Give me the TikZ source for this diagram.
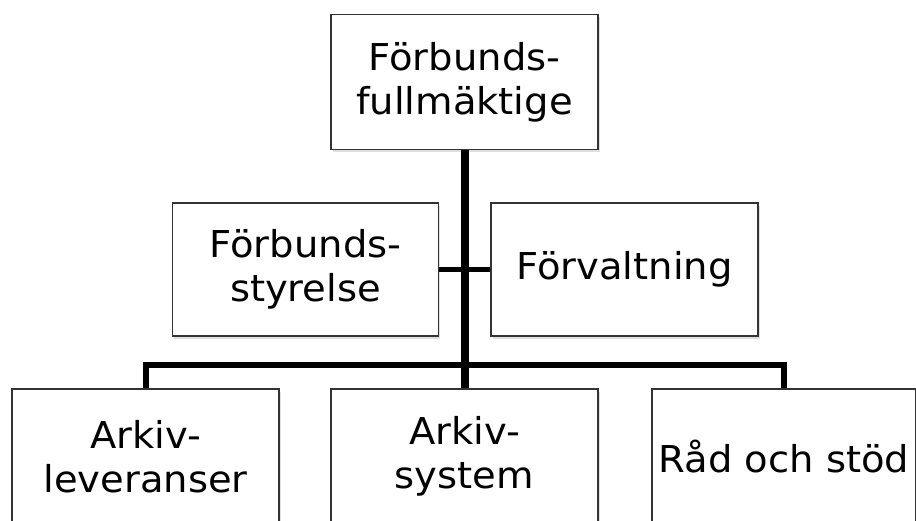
\documentclass[tikz,border=0pt]{standalone}
\usepackage{fontspec}
\setmainfont[FakeStretch=1.04]{DejaVu Sans}
\usetikzlibrary{shadows}
\tikzset{
  orgbox/.style={draw=black!80, line width=1.8pt, fill=white,
    minimum width=267pt, minimum height=135pt, inner sep=0pt,
    align=center, font=\fontsize{37}{44}\selectfont,
    drop shadow={opacity=0.25, shadow xshift=1.5pt, shadow yshift=-2.5pt}},
  trunk/.style={line width=8pt, line cap=butt},
  branch/.style={line width=6pt, line join=miter},
  side/.style={line width=5pt}
}
\begin{document}
\begin{tikzpicture}[x=1pt, y=-1pt]
  \useasboundingbox (0,0) rectangle (916,520);
  \clip (0,0) rectangle (916,520);
  \fill[white] (0,0) rectangle (916,520);

  % level where the lower branch runs across
  \coordinate (bar) at (464.5,365);

  % boxes
  \node[orgbox] (fm) at (464.5,82) {Förbunds-\\fullmäktige};
  \node[orgbox, minimum width=266pt, minimum height=133pt] (fs) at (305.5,269.5) {Förbunds-\\styrelse};
  \node[orgbox, minimum height=133pt] (fv) at (624.5,269.5) {Förvaltning};
  \node[orgbox] (al) at (145.5,456.5) {Arkiv-\\leveranser};
  \node[orgbox] (as) at (464.5,456.5) {Arkiv-\\system};
  \node[orgbox, minimum width=264pt] (rs) at (784,456.5) {Råd och stöd};

  % connectors
  \draw[side] (fs.east) -- (fv.west);
  \draw[branch] (al.north) |- (bar) -| (rs.north);
  \draw[trunk] (fm.south) -- (as.north);
\end{tikzpicture}
\end{document}
